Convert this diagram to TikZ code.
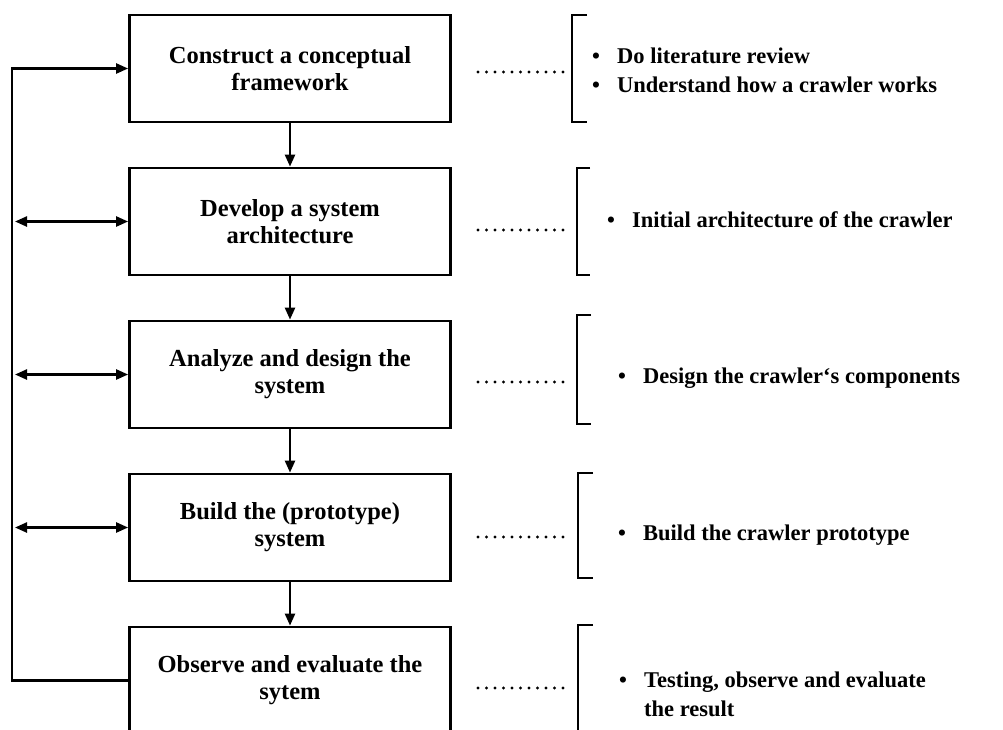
\documentclass[tikz,border=0pt]{standalone}
\usepackage{fontspec}
\setmainfont{Liberation Serif}
\usetikzlibrary{arrows.meta}
\newcommand\itm[1]{\makebox[25pt][l]{•}#1}
\begin{document}
\begin{tikzpicture}[x=1pt,y=-1pt,
  stepbox/.style={draw, line width=2.8pt, minimum width=321pt, minimum height=107pt,
    inner sep=0pt, align=center, font=\fontsize{24.5}{27}\selectfont\bfseries},
  flow/.style={line width=2.4pt, -{Triangle[length=12pt,width=10pt]}},
  both/.style={line width=2.4pt, {Triangle[length=12pt,width=10pt]}-{Triangle[length=12pt,width=10pt]}},
  dotline/.style={line width=3.4pt, line cap=round, dash pattern=on 0pt off 8.5pt},
  brk/.style={line width=1.5pt},
  note/.style={anchor=west, align=left, inner sep=0pt, font=\fontsize{22.5}{29}\selectfont\bfseries}]
\useasboundingbox (0,0) rectangle (1003,729);
\clip (0,0) rectangle (1003,729);
\fill[white] (0,0) rectangle (1003,729);

% steps
\node[stepbox] (s1) at (290,68.5) {Construct a conceptual\\framework};
\node[stepbox] (s2) at (290,221.5) {Develop a system\\architecture};
\node[stepbox] (s3) at (290,374.5) {Analyze and design the\\system};
\node[stepbox] (s4) at (290,527.5) {Build the (prototype)\\system};
\node[stepbox] (s5) at (290,680.5) {Observe and evaluate the\\sytem};

% flow
\draw[flow] (s1.south) -- (s2.north);
\draw[flow] (s2.south) -- (s3.north);
\draw[flow] (s3.south) -- (s4.north);
\draw[flow] (s4.south) -- (s5.north);

% feedback loop
\coordinate (lb) at (12,680.5);
\draw[flow] (s5.west) -- (lb) |- (s1.west);
\coordinate (a2) at (15,221.5);
\coordinate (a3) at (15,374.5);
\coordinate (a4) at (15,527.5);
\draw[both] (a2) -- (s2.west);
\draw[both] (a3) -- (s3.west);
\draw[both] (a4) -- (s4.west);

% dotted leaders
\draw[dotline] (478,72) -- (563.5,72);
\draw[dotline] (478,230) -- (563.5,230);
\draw[dotline] (478,382) -- (563.5,382);
\draw[dotline] (478,537) -- (563.5,537);
\draw[dotline] (478,688) -- (563.5,688);

% brackets
\draw[brk] (587,15) -- (572,15) -- (572,122) -- (587,122);
\draw[brk] (590,168) -- (577,168) -- (577,275) -- (590,275);
\draw[brk] (591,315) -- (577,315) -- (577,424) -- (591,424);
\draw[brk] (593,473) -- (578,473) -- (578,578) -- (593,578);
\draw[brk] (593,625) -- (578,625) -- (578,740);

% notes
\node[note] (n1) at (592,70.5) {\itm{Do literature review}\\\itm{Understand how a crawler works}};
\node[note] (n2) at (607,220) {\itm{Initial architecture of the crawler}};
\node[note] (n3) at (618,378) {\itm{Design the crawler‘s components}};
\node[note] (n4) at (618,535) {\itm{Build the crawler prototype}};
\node[note] (n5) at (619,694) {\itm{Testing, observe and evaluate}\\\makebox[25pt]{}the result};
\end{tikzpicture}
\end{document}
